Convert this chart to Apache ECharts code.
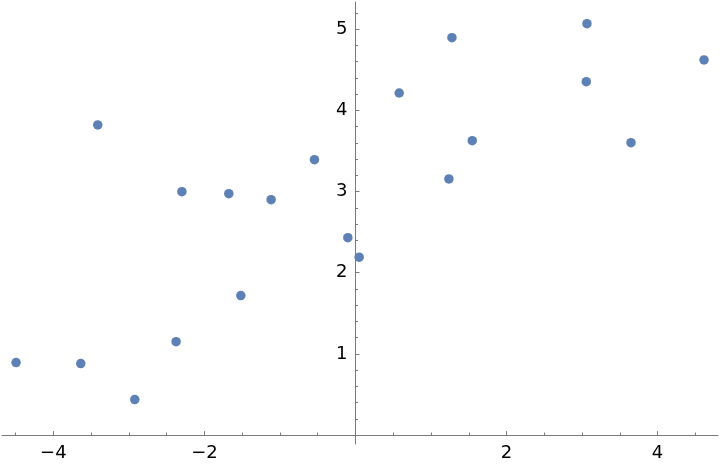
<!DOCTYPE html>
<html>
<head>
<meta charset="utf-8">
<script src="https://cdn.jsdelivr.net/npm/echarts@6/dist/echarts.min.js"></script>
<style>html,body{margin:0;padding:0;background:#fff}#c{width:720px;height:466px}</style>
</head>
<body>
<div id="c"></div>
<script>
const xValues = [-4.494, -3.637, -3.412, -2.922, -2.298, -2.375, -1.677, -1.518, -1.117, -0.543, -0.101, 0.049, 0.579, 1.277, 1.237, 1.546, 3.065, 3.056, 3.648, 4.615];
const yValues = [0.893, 0.881, 3.820, 0.437, 2.999, 1.151, 2.974, 1.718, 2.900, 3.393, 2.432, 2.191, 4.214, 4.895, 3.155, 3.627, 5.068, 4.353, 3.602, 4.621];
const xTickLabels = [-4, -2, 2, 4];
const yTickLabels = [1, 2, 3, 4, 5];
const xMinorTicks = [-4.5, -3.5, -3, -2.5, -1.5, -1, -0.5, 0.5, 1, 1.5, 2.5, 3, 3.5, 4.5];
const yMinorTicks = [0.2,0.4,0.6,0.8,1.2,1.4,1.6,1.8,2.2,2.4,2.6,2.8,3.2,3.4,3.6,3.8,4.2,4.4,4.6,4.8,5.2];

const points = xValues.map((x, i) => [x, yValues[i]]);
const axisColor = '#7a7a7a';
const fmt = v => (v < 0 ? '\u2212' + Math.abs(v) : String(v));
const labelFont = { fontFamily: 'DejaVu Sans', fontSize: 18, color: '#000' };
const xRange = { min: -4.68, max: 4.80 };
const yRange = { min: -0.11, max: 5.335 };

const W = 720, H = 466, gridLeft = 2, gridRight = 2, gridTop = 2, gridBottom = 22;
const plotW = W - gridLeft - gridRight;
const plotH = H - gridTop - gridBottom;
// move axes from the grid edges to the zero lines of the other scale
const yOffset = -(plotW * (0 - xRange.min) / (xRange.max - xRange.min));
const xOffset = -(plotH * (0 - yRange.min) / (yRange.max - yRange.min));

const chart = echarts.init(document.getElementById('c'), null, { renderer: 'canvas' });
chart.setOption({
  animation: false,
  grid: { left: gridLeft, right: gridRight, top: gridTop, bottom: gridBottom, containLabel: false, outerBoundsMode: 'none' },
  xAxis: [
    {
      type: 'value', ...xRange, position: 'bottom', offset: xOffset,
      axisLine: { show: true, onZero: false, lineStyle: { color: axisColor, width: 1 } },
      axisTick: { show: true, inside: true, length: 4, customValues: xTickLabels, lineStyle: { color: axisColor } },
      axisLabel: { show: true, customValues: xTickLabels, formatter: fmt, margin: 9, ...labelFont },
      splitLine: { show: false }
    },
    {
      type: 'value', ...xRange, position: 'bottom', offset: xOffset,
      axisLine: { show: false, onZero: false },
      axisTick: { show: true, inside: true, length: 2.5, customValues: xMinorTicks, lineStyle: { color: axisColor } },
      axisLabel: { show: false },
      splitLine: { show: false }
    }
  ],
  yAxis: [
    {
      type: 'value', ...yRange, position: 'left', offset: yOffset,
      axisLine: { show: true, onZero: false, lineStyle: { color: axisColor, width: 1 } },
      axisTick: { show: true, inside: true, length: 4, customValues: yTickLabels, lineStyle: { color: axisColor } },
      axisLabel: { show: true, customValues: yTickLabels, formatter: fmt, margin: 8, ...labelFont },
      splitLine: { show: false }
    },
    {
      type: 'value', ...yRange, position: 'left', offset: yOffset,
      axisLine: { show: false, onZero: false },
      axisTick: { show: true, inside: true, length: 2.5, customValues: yMinorTicks, lineStyle: { color: axisColor } },
      axisLabel: { show: false },
      splitLine: { show: false }
    }
  ],
  series: [{
    type: 'scatter',
    xAxisIndex: 0, yAxisIndex: 0,
    data: points,
    symbol: 'circle',
    symbolSize: 9.5,
    itemStyle: { color: '#5e81b5', opacity: 1 }
  }]
});
</script>
</body>
</html>
